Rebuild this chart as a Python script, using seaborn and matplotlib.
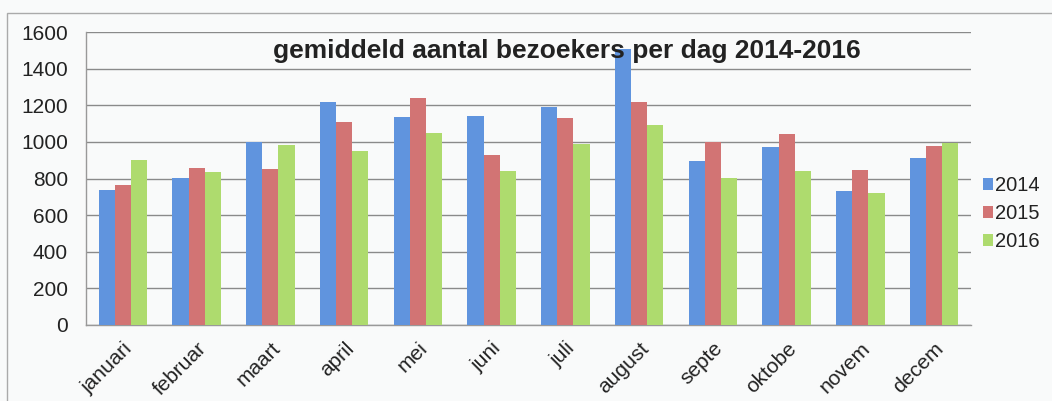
import matplotlib
matplotlib.use("Agg")
import matplotlib.pyplot as plt
import seaborn as sns
import pandas as pd
from matplotlib.patches import Rectangle

months = ["januari", "februar", "maart", "april", "mei", "juni", "juli",
          "august", "septe", "oktobe", "novem", "decem"]
years = ["2014", "2015", "2016"]
v2014 = [738, 805, 998, 1220, 1135, 1140, 1191, 1508, 896, 974, 732, 911]
v2015 = [765, 856, 851, 1109, 1240, 929, 1133, 1219, 1002, 1042, 847, 980]
v2016 = [902, 834, 982, 952, 1047, 843, 987, 1093, 801, 841, 720, 996]
title = "gemiddeld aantal bezoekers per dag 2014-2016"
yticks = [0, 200, 400, 600, 800, 1000, 1200, 1400, 1600]

colors = ["#6094DE", "#D27474", "#AEDB6E"]

rows = []
for yr, vals in zip(years, [v2014, v2015, v2016]):
    for m, v in zip(months, vals):
        rows.append({"maand": m, "jaar": yr, "bezoekers": v})
df = pd.DataFrame(rows)

sns.set_theme(style="white")
plt.rcParams["font.family"] = ["Liberation Sans", "DejaVu Sans"]

bg = "#F9FAFA"
fig = plt.figure(figsize=(10.52, 4.01), dpi=100, facecolor=bg)
ax = fig.add_axes([86 / 1052, 1 - 325 / 401, (971 - 86) / 1052, (325 - 32) / 401])
ax.set_facecolor(bg)

sns.barplot(data=df, x="maand", y="bezoekers", hue="jaar", order=months,
            hue_order=years, palette=colors, width=0.66, saturation=1,
            linewidth=0, ax=ax, zorder=3, legend=True)

ax.set_ylim(0, 1600)
ax.set_xlim(-0.5, len(months) - 0.5)
ax.set_yticks(yticks)
ax.set_yticklabels([str(t) for t in yticks], fontsize=15, color="#222222")
ax.yaxis.grid(True, color="#8A8A8A", linewidth=1.0, zorder=0)
ax.set_axisbelow(True)

ax.set_xticks(range(len(months)))
ax.set_xticklabels(months, rotation=45, ha="right", rotation_mode="anchor",
                   fontsize=15, color="#222222")
ax.set_xticks([i - 0.5 for i in range(len(months) + 1)], minor=True)
ax.tick_params(axis="x", which="major", length=0, pad=10)
ax.tick_params(axis="x", which="minor", length=5, width=1, color="#888888",
               direction="out")
ax.tick_params(axis="y", length=0, pad=13)
ax.set_xlabel("")
ax.set_ylabel("")

for s in ["top", "right"]:
    ax.spines[s].set_visible(False)
for s in ["left", "bottom"]:
    ax.spines[s].set_color("#999999")
    ax.spines[s].set_linewidth(1.0)

ax.text(0.5435, 0.935, title, transform=ax.transAxes, ha="center", va="center",
        fontsize=19, fontweight="bold", color="#222222", zorder=5)

leg = ax.legend(loc="center left", bbox_to_anchor=(1.014, 0.38), frameon=False,
                fontsize=14.5, handlelength=0.5, handleheight=0.5,
                handletextpad=0.1, labelspacing=0.45, borderaxespad=0,
                borderpad=0)
for t in leg.get_texts():
    t.set_color("#222222")

fig.patches.append(Rectangle((7 / 1052, -0.1), 1.2, 1 - 13 / 401 + 0.1,
                             transform=fig.transFigure, fill=False,
                             edgecolor="#AAAAAA", linewidth=1.0))

fig.savefig("out.png", dpi=100, facecolor=bg)
